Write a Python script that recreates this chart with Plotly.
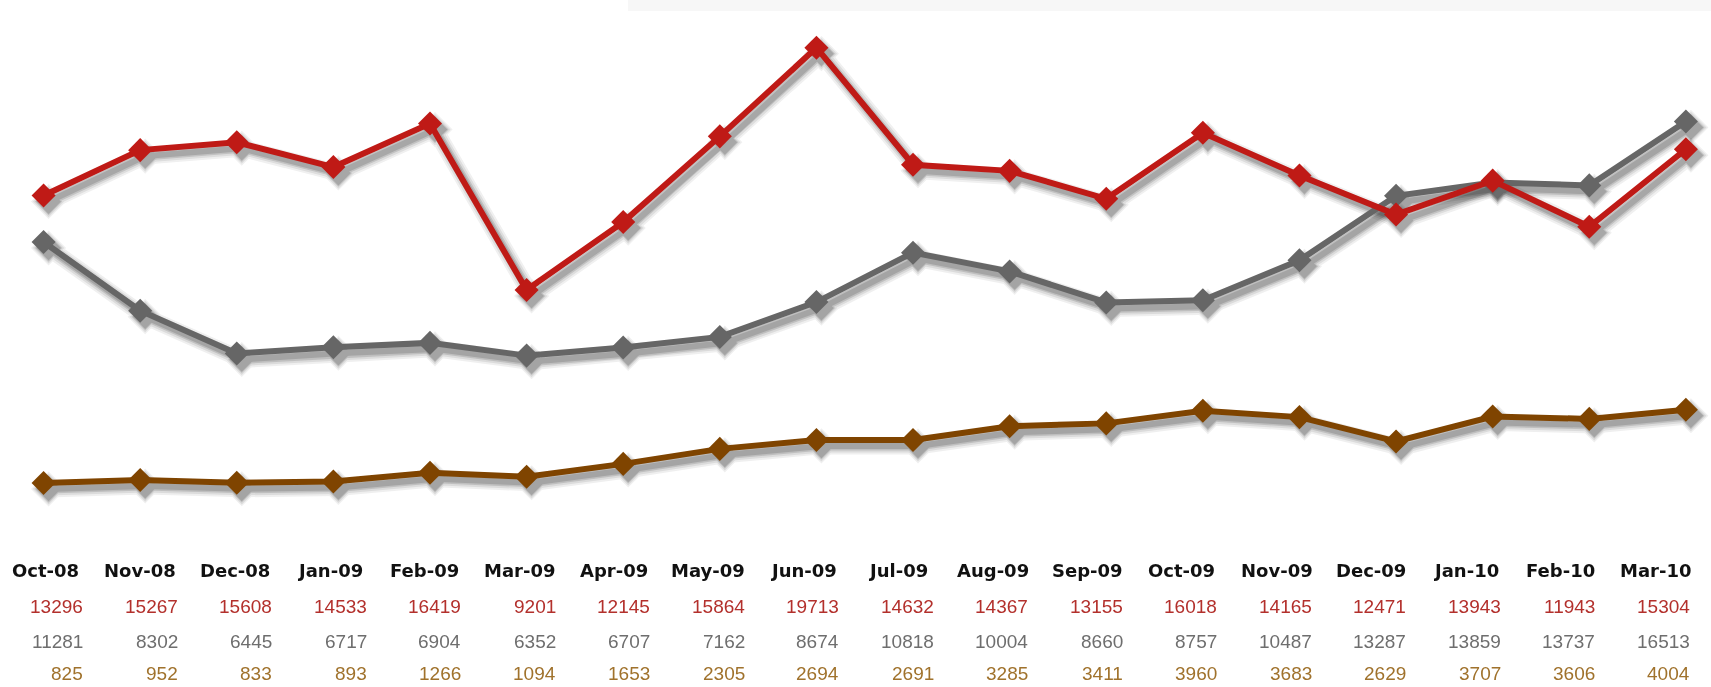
import plotly.graph_objects as go

months = ["Oct-08", "Nov-08", "Dec-08", "Jan-09", "Feb-09", "Mar-09", "Apr-09", "May-09", "Jun-09",
          "Jul-09", "Aug-09", "Sep-09", "Oct-09", "Nov-09", "Dec-09", "Jan-10", "Feb-10", "Mar-10"]
red_vals = [13296, 15267, 15608, 14533, 16419, 9201, 12145, 15864, 19713,
            14632, 14367, 13155, 16018, 14165, 12471, 13943, 11943, 15304]
gray_vals = [11281, 8302, 6445, 6717, 6904, 6352, 6707, 7162, 8674,
             10818, 10004, 8660, 8757, 10487, 13287, 13859, 13737, 16513]
brown_vals = [825, 952, 833, 893, 1266, 1094, 1653, 2305, 2694,
              2691, 3285, 3411, 3960, 3683, 2629, 3707, 3606, 4004]

W, H = 1711, 687
ML, MR, MT, MB = 0, 0, 18, 185
plot_h = H - MT - MB
X0, X1 = -0.451, 17.26
Y0, Y1 = 0, 21000
px_per_x = W / (X1 - X0)
px_per_y = plot_h / (Y1 - Y0)

SH_DX, SH_DY = 5, 6  # shadow offset in pixels
dx = SH_DX / px_per_x
dy = SH_DY / px_per_y

series = [
    (brown_vals, "#7f4400", "#a0722c"),
    (gray_vals, "#666666", "#6e6e6e"),
    (red_vals, "#bf1a16", "#b3302c"),
]

xs = list(range(len(months)))
fig = go.Figure()

# shadows (base axes, shifted ranges)
for vals, col, _ in series:
    for w, ms, op in [(17, 27, 0.06), (13, 24, 0.08), (9, 21, 0.12), (6, 19, 0.14)]:
        fig.add_trace(go.Scatter(
            x=xs, y=vals, mode="lines+markers",
            line=dict(color="#000000", width=w, shape="linear"),
            marker=dict(symbol="diamond", size=ms, color="#000000"),
            opacity=op, hoverinfo="skip", showlegend=False,
            xaxis="x", yaxis="y", cliponaxis=False,
        ))

# main lines (overlay axes)
for vals, col, _ in series:
    fig.add_trace(go.Scatter(
        x=xs, y=vals, mode="lines+markers",
        line=dict(color=col, width=6),
        marker=dict(symbol="diamond", size=18.5, color=col),
        showlegend=False, xaxis="x2", yaxis="y2", cliponaxis=False,
    ))

hidden = dict(visible=False, showgrid=False, zeroline=False, fixedrange=True)
fig.update_layout(
    width=W, height=H,
    margin=dict(l=ML, r=MR, t=MT, b=MB, pad=0),
    paper_bgcolor="white", plot_bgcolor="white",
    xaxis=dict(range=[X0 - dx, X1 - dx], **hidden),
    yaxis=dict(range=[Y0 + dy, Y1 + dy], **hidden),
    xaxis2=dict(range=[X0, X1], overlaying="x", **hidden),
    yaxis2=dict(range=[Y0, Y1], overlaying="y", **hidden),
    showlegend=False,
)

# faint top band
fig.add_shape(type="rect", xref="paper", yref="paper",
              x0=628 / W, x1=1.0, y0=1 + MT / plot_h, y1=1 + (MT - 11) / plot_h,
              fillcolor="#f7f7f7", line=dict(width=0), layer="below")

def py_to_paper(py):
    return (H - MB - py) / plot_h

label_y = py_to_paper(570)
rows = [(red_vals, py_to_paper(606), series[2][2]),
        (gray_vals, py_to_paper(641), series[1][2]),
        (brown_vals, py_to_paper(673), series[0][2])]

for i, m in enumerate(months):
    fig.add_annotation(text="<b>" + m + "</b>", xref="paper", yref="paper",
                       x=(45.5 + i * 94.7) / W, y=label_y, xanchor="center", yanchor="middle",
                       showarrow=False, borderpad=0,
                       font=dict(family="DejaVu Sans", size=18, color="#111111"))
    for vals, yy, tc in rows:
        fig.add_annotation(text=str(vals[i]), xref="paper", yref="paper",
                           x=(84 + i * 94.5) / W, y=yy, xanchor="right", yanchor="middle",
                           showarrow=False, borderpad=0,
                           font=dict(family="Liberation Sans", size=19, color=tc))

fig.write_html("out.html", config={"displayModeBar": False},
               post_script="document.body.style.margin='0';document.body.style.overflow='hidden';")
